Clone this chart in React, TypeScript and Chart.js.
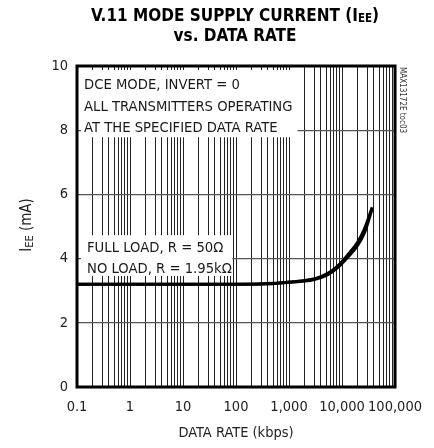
import React, { useEffect, useRef } from "react";
import { Chart, registerables } from "chart.js";

Chart.register(...registerables);

// ---------- data ----------
const dataRates = [0.1, 1, 10, 100, 500, 1000, 2000, 3000, 4000, 5400, 8250, 12600, 19500, 26400, 37000];
const fullLoadCurrent = [3.2, 3.2, 3.2, 3.2, 3.23, 3.27, 3.32, 3.37, 3.44, 3.54, 3.77, 4.1, 4.5, 4.92, 5.6];
const noLoadCurrent = [3.2, 3.2, 3.2, 3.2, 3.22, 3.26, 3.3, 3.35, 3.41, 3.5, 3.72, 4.03, 4.4, 4.8, 5.55];

const xTickValues = [0.1, 1, 10, 100, 1000, 10000, 100000];
const xTickLabels = ["0.1", "1", "10", "100", "1,000", "10,000", "100,000"];
const yTickValues = [0, 2, 4, 6, 8, 10];
const xMinorSteps = [1, 2, 3, 4, 5, 6, 7, 8, 9];

const titleLine1 = "V.11 MODE SUPPLY CURRENT (I";
const titleLine1Sub = "EE";
const titleLine1End = ")";
const titleLine2 = "vs. DATA RATE";
const xAxisTitle = "DATA RATE (kbps)";
const yTitleMain = "I";
const yTitleSub = "EE";
const yTitleEnd = " (mA)";
const noteConditions = ["DCE MODE, INVERT = 0", "ALL TRANSMITTERS OPERATING", "AT THE SPECIFIED DATA RATE"];
const noteLoads = ["FULL LOAD, R = 50Ω", "NO LOAD, R = 1.95kΩ"];
const watermark = "MAX13172E toc03";

// box extents in data units
const noteConditionsBox = { xMax: 1450, yMin: 7.78 };
const noteLoadsBox = { xMax: 85, yMin: 3.46, yMax: 4.73 };

const FAMILY = '"DejaVu Sans Condensed", "Liberation Sans", sans-serif';

const gridValues: number[] = [];
for (let i = 0; i < xTickValues.length - 1; i++) {
  for (const m of xMinorSteps) gridValues.push(xTickValues[i] * m);
}
gridValues.push(xTickValues[xTickValues.length - 1]);

const overlayPlugin = {
  id: "overlay",
  beforeDatasetsDraw(chart: any) {
    const { ctx, chartArea: a, scales } = chart;
    const x = scales.x;
    const y = scales.y;
    ctx.save();
    ctx.fillStyle = "#ffffff";
    const b1l = a.left + 4;
    const b1t = a.top + 4;
    const b1r = x.getPixelForValue(noteConditionsBox.xMax);
    const b1b = y.getPixelForValue(noteConditionsBox.yMin);
    ctx.fillRect(b1l, b1t, b1r - b1l, b1b - b1t);
    const b2l = a.left + 4;
    const b2t = y.getPixelForValue(noteLoadsBox.yMax);
    const b2r = x.getPixelForValue(noteLoadsBox.xMax);
    const b2b = y.getPixelForValue(noteLoadsBox.yMin);
    ctx.fillRect(b2l, b2t, b2r - b2l, b2b - b2t);

    ctx.fillStyle = "#1a1a1a";
    ctx.font = "14.7px " + FAMILY;
    ctx.textAlign = "left";
    ctx.textBaseline = "alphabetic";
    noteConditions.forEach((t, i) => {
      ctx.fillText(t, a.left + 7, a.top + 23 + i * 21.7);
    });
    noteLoads.forEach((t, i) => {
      ctx.fillText(t, a.left + 10, b2t + 17 + i * 21);
    });
    ctx.restore();
  },
  afterDraw(chart: any) {
    const { ctx, chartArea: a } = chart;
    ctx.save();
    ctx.strokeStyle = "#000";
    ctx.lineWidth = 3;
    ctx.strokeRect(a.left, a.top, a.right - a.left, a.bottom - a.top);

    // main title
    const tcx = 235;
    const fMain = "bold 17px " + FAMILY;
    const fSub = "bold 11.5px " + FAMILY;
    ctx.fillStyle = "#000";
    ctx.textBaseline = "alphabetic";
    ctx.textAlign = "left";
    ctx.font = fMain;
    const w1 = ctx.measureText(titleLine1).width;
    const w3 = ctx.measureText(titleLine1End).width;
    ctx.font = fSub;
    const w2 = ctx.measureText(titleLine1Sub).width;
    let tx = tcx - (w1 + w2 + w3) / 2;
    ctx.font = fMain;
    ctx.fillText(titleLine1, tx, 21);
    tx += w1;
    ctx.font = fSub;
    ctx.fillText(titleLine1Sub, tx, 21.5);
    tx += w2;
    ctx.font = fMain;
    ctx.fillText(titleLine1End, tx, 21);
    ctx.textAlign = "center";
    ctx.fillText(titleLine2, tcx, 41);

    // y title
    ctx.save();
    ctx.translate(31, 225);
    ctx.rotate(-Math.PI / 2);
    ctx.textAlign = "left";
    ctx.fillStyle = "#222";
    const yf = "15px " + FAMILY;
    const ys = "11px " + FAMILY;
    ctx.font = yf;
    const yw1 = ctx.measureText(yTitleMain).width;
    const yw3 = ctx.measureText(yTitleEnd).width;
    ctx.font = ys;
    const yw2 = ctx.measureText(yTitleSub).width;
    let yx = -(yw1 + yw2 + yw3) / 2;
    ctx.font = yf;
    ctx.fillText(yTitleMain, yx, 0);
    yx += yw1;
    ctx.font = ys;
    ctx.fillText(yTitleSub, yx, 1.5);
    yx += yw2;
    ctx.font = yf;
    ctx.fillText(yTitleEnd, yx, 0);
    ctx.restore();

    // watermark
    ctx.save();
    ctx.translate(a.right + 7, a.top + 1);
    ctx.rotate(Math.PI / 2);
    ctx.font = "8px " + FAMILY;
    ctx.fillStyle = "#333";
    ctx.textAlign = "left";
    ctx.textBaseline = "middle";
    ctx.fillText(watermark, 0, 0);
    ctx.restore();

    ctx.restore();
  },
};

export default function App() {
  const canvasRef = useRef<HTMLCanvasElement | null>(null);

  useEffect(() => {
    const canvas = canvasRef.current;
    if (!canvas) return;
    const tickFont = { family: FAMILY, size: 14.5 };
    const chart = new Chart(canvas, {
      type: "line",
      data: {
        datasets: [
          {
            label: "Full load",
            data: dataRates.map((r, i) => ({ x: r, y: fullLoadCurrent[i] })),
            borderColor: "#000",
            borderWidth: 3,
            pointRadius: 0,
            tension: 0.4,
            cubicInterpolationMode: "monotone",
            fill: false,
          },
          {
            label: "No load",
            data: dataRates.map((r, i) => ({ x: r, y: noLoadCurrent[i] })),
            borderColor: "#000",
            borderWidth: 3,
            pointRadius: 0,
            tension: 0.4,
            cubicInterpolationMode: "monotone",
            fill: false,
          },
        ],
      },
      options: {
        responsive: false,
        animation: false,
        devicePixelRatio: 1,
        layout: { padding: { top: 66, right: 36, left: 0, bottom: 0 } },
        plugins: {
          legend: { display: false },
          tooltip: { enabled: false },
          title: { display: false },
        },
        scales: {
          x: {
            type: "logarithmic",
            min: 0.1,
            max: 100000,
            afterBuildTicks: (s: any) => {
              s.ticks = gridValues.map((v) => ({ value: v }));
            },
            afterFit: (s: any) => {
              s.height = 61;
            },
            ticks: {
              autoSkip: false,
              maxRotation: 0,
              minRotation: 0,
              padding: 12,
              color: "#222",
              font: tickFont,
              callback: (v: any) => {
                const i = xTickValues.findIndex((t) => Math.abs(t - v) / t < 1e-6);
                return i >= 0 ? xTickLabels[i] : "";
              },
            },
            grid: { color: "#222", lineWidth: 1, drawTicks: false },
            border: { display: false },
            title: {
              display: true,
              text: xAxisTitle,
              color: "#222",
              font: tickFont,
              padding: { top: 0, bottom: 6 },
            },
          },
          y: {
            min: 0,
            max: 10,
            afterBuildTicks: (s: any) => {
              s.ticks = yTickValues.map((v) => ({ value: v }));
            },
            afterFit: (s: any) => {
              s.width = 77;
            },
            ticks: { padding: 9, color: "#222", font: tickFont },
            grid: { color: "#555", lineWidth: 1.2, drawTicks: false },
            border: { display: false },
          },
        },
      },
      plugins: [overlayPlugin],
    } as any);
    return () => chart.destroy();
  }, []);

  return (
    <div style={{ position: "absolute", left: 0, top: 0, width: 434, height: 448, background: "#fff" }}>
      <canvas ref={canvasRef} width={434} height={448} style={{ display: "block" }} />
    </div>
  );
}
